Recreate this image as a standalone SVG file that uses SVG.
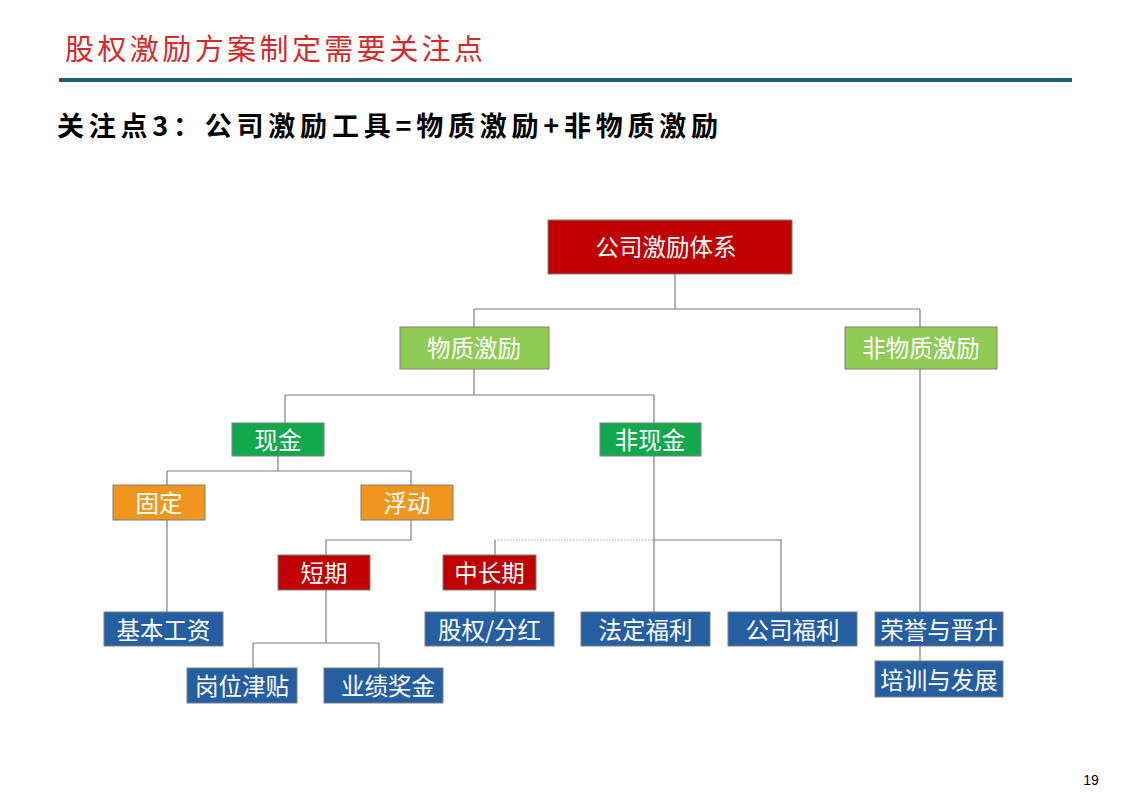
<svg xmlns="http://www.w3.org/2000/svg" width="1130" height="801" viewBox="0 0 1130 801">
<style>
.t{font-family:"Noto Sans CJK SC","Microsoft YaHei",sans-serif;font-size:23.5px;fill:#fff;text-anchor:middle;dominant-baseline:central}
.box{stroke:#7f7f7f;stroke-width:1}
.red{fill:#c00000}.lg{fill:#8fcb55}.dg{fill:#11a84e}.or{fill:#f0961f}.bl{fill:#255ea1}
.c{fill:none;stroke:#7f7f7f;stroke-width:1.2}
</style>
<rect width="1130" height="801" fill="#fff"/>
<text x="65" y="60" font-family="'Noto Sans CJK SC',sans-serif" font-size="29" fill="#d42a2a" textLength="418" lengthAdjust="spacing">股权激励方案制定需要关注点</text>
<rect x="59" y="78" width="1013" height="4" fill="#1c5f80"/>
<text x="57" y="136" font-family="'Noto Sans CJK SC',sans-serif" font-size="27" font-weight="bold" fill="#000" textLength="661" lengthAdjust="spacing">关注点3：公司激励工具=物质激励+非物质激励</text>
<g id="connectors">
<path class="c" d="M675 274V309M474 309H920M474 309V327M920 309V327"/>
<path class="c" d="M474 369V395M285 395H654M285 395V423M654 395V423"/>
<path class="c" d="M278 456V471M167 471H411M167 471V485M411 471V485"/>
<path class="c" d="M167 520V612"/>
<path class="c" d="M411 520V540H326V555"/>
<path class="c" d="M654 456V612M654 540H781V612"/>
<path d="M495 540H654" fill="none" stroke="#a6a6a6" stroke-width="1" stroke-dasharray="1.5,1.5"/>
<path class="c" d="M495 540V555M495 590V612"/>
<path class="c" d="M326 590V643M253 643H379M253 643V668M379 643V668"/>
<path class="c" d="M920 369V612M920 646V661"/>
</g>
<g id="n1"><rect class="box red" x="548" y="220" width="244" height="54"/><text class="t" x="666" y="246">公司激励体系</text></g>
<g id="n2"><rect class="box lg" x="400" y="327" width="149" height="42"/><text class="t" x="474" y="347">物质激励</text></g>
<g id="n3"><rect class="box lg" x="845" y="327" width="152" height="42"/><text class="t" x="921" y="347">非物质激励</text></g>
<g id="n4"><rect class="box dg" x="232" y="423" width="92" height="33"/><text class="t" x="278" y="439">现金</text></g>
<g id="n5"><rect class="box dg" x="600" y="423" width="101" height="33"/><text class="t" x="650" y="439">非现金</text></g>
<g id="n6"><rect class="box or" x="113" y="485" width="92" height="35"/><text class="t" x="159" y="502">固定</text></g>
<g id="n7"><rect class="box or" x="361" y="485" width="92" height="35"/><text class="t" x="407" y="502">浮动</text></g>
<g id="n8"><rect class="box red" x="278" y="555" width="92" height="35"/><text class="t" x="324" y="572">短期</text></g>
<g id="n9"><rect class="box red" x="443" y="555" width="93" height="35"/><text class="t" x="489.5" y="572">中长期</text></g>
<g id="n10"><rect class="box bl" x="104" y="612" width="119" height="34"/><text class="t" x="163.5" y="628.5">基本工资</text></g>
<g id="n11"><rect class="box bl" x="425" y="612" width="129" height="34"/><text class="t" x="489.5" y="628.5">股权/分红</text></g>
<g id="n12"><rect class="box bl" x="581" y="612" width="129" height="34"/><text class="t" x="645.5" y="628.5">法定福利</text></g>
<g id="n13"><rect class="box bl" x="728" y="612" width="129" height="34"/><text class="t" x="792.5" y="628.5">公司福利</text></g>
<g id="n14"><rect class="box bl" x="875" y="612" width="128" height="34"/><text class="t" x="939" y="628.5">荣誉与晋升</text></g>
<g id="n15"><rect class="box bl" x="875" y="661" width="128" height="36"/><text class="t" x="939" y="678.5">培训与发展</text></g>
<g id="n16"><rect class="box bl" x="187" y="668" width="110" height="35"/><text class="t" x="242" y="685">岗位津贴</text></g>
<g id="n17"><rect class="box bl" x="324" y="668" width="119" height="35"/><text class="t" x="388" y="685">业绩奖金</text></g>
<text x="1091" y="785" font-family="'Liberation Sans',Arial,sans-serif" font-size="14" fill="#000" text-anchor="middle">19</text>
</svg>
